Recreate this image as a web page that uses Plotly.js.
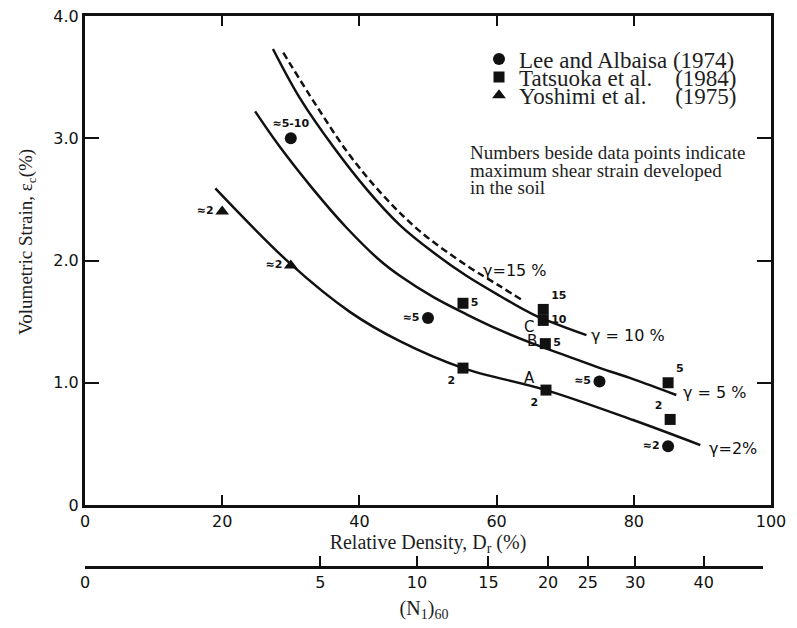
<!DOCTYPE html>
<html>
<head>
<meta charset="utf-8">
<script src="https://cdn.plot.ly/plotly-3.0.1.min.js"></script>
<style>
  html, body { margin: 0; padding: 0; background: #ffffff; }
  #chart { width: 797px; height: 628px; }
</style>
</head>
<body>
<div id="chart"></div>
<script>
// Volumetric strain of sands after cyclic loading, plotted against relative density.

// Lee and Albaisa (1974)
const leeDr = [30, 50, 75, 85];
const leeStrain = [3.0, 1.53, 1.01, 0.48];
const leeLabels = ['\u22485-10', '\u22485', '\u22485', '\u22482'];

// Tatsuoka et al. (1984)
const tatDr = [55.1, 66.8, 66.8, 67.1, 55.1, 67.2, 85.0, 85.3];
const tatStrain = [1.65, 1.60, 1.51, 1.32, 1.12, 0.94, 1.00, 0.70];
const tatLabels = ['5', '15', '10', '5', '2', '2', '5', '2'];
const tatLetters = ['', '', 'C', 'B', '', 'A', '', ''];

// Yoshimi et al. (1975)
const yosDr = [20, 30];
const yosStrain = [2.40, 1.96];
const yosLabels = ['\u22482', '\u22482'];

// Curves of constant maximum shear strain
const g2Dr = [19.0, 30, 38.6, 45.9, 55.1, 67.2, 79.9, 89.7];
const g2Strain = [2.59, 1.97, 1.58, 1.34, 1.12, 0.94, 0.695, 0.49];
const g5Dr = [24.8, 28.4, 33.3, 38.1, 43, 45.9, 50.8, 55.6, 60.5, 65.3, 70.2, 75.1, 79.9, 86.2];
const g5Strain = [3.22, 2.93, 2.58, 2.27, 2.0, 1.875, 1.70, 1.56, 1.43, 1.32, 1.22, 1.12, 1.03, 0.90];
const g10Dr = [27.4, 31.3, 36.2, 41.1, 45.9, 50.8, 55.6, 60.5, 65.3, 73.1];
const g10Strain = [3.73, 3.33, 2.93, 2.58, 2.29, 2.065, 1.875, 1.71, 1.56, 1.39];
const g15Dr = [28.9, 33.8, 38.6, 43.5, 48.8, 55.6, 60.5, 63.9];
const g15Strain = [3.70, 3.26, 2.86, 2.53, 2.24, 1.96, 1.79, 1.67];

// Axis ticks
const drTicks = [0, 20, 40, 60, 80, 100];
const strainTicks = [0, 1, 2, 3, 4];
const strainTickText = ['0', '1.0', '2.0', '3.0', '4.0'];
const n160Ticks = ['0', '5', '10', '15', '20', '25', '30', '40'];
const n160AsDr = [0, 34.3, 48.4, 58.8, 67.5, 73.3, 80.2, 90.2];

const INK = '#111111';
const TEXT = '#1e1e1e';
const sans = 'DejaVu Sans, sans-serif';
const serif = 'Liberation Serif, Times New Roman, serif';
const NB = '\u00a0';

function curve(x, y, dash) {
  return {
    x: x, y: y, type: 'scatter', mode: 'lines',
    line: { color: INK, width: 2.5, shape: 'spline', smoothing: 1, dash: dash || 'solid' },
    showlegend: false, hoverinfo: 'skip'
  };
}

const labelFont = { family: sans, size: 11, color: INK, weight: 'bold' };

const traces = [
  curve(g2Dr, g2Strain),
  curve(g5Dr, g5Strain),
  curve(g10Dr, g10Strain),
  curve(g15Dr, g15Strain, '7px,4px'),
  {
    x: leeDr, y: leeStrain, text: leeLabels, type: 'scatter', mode: 'markers+text',
    name: 'Lee and Albaisa (1974)', legend: 'legend',
    marker: { symbol: 'circle', size: 12, color: INK },
    textposition: ['top center', 'middle left', 'middle left', 'middle left'],
    textfont: labelFont
  },
  {
    x: tatDr, y: tatStrain, text: tatLabels, type: 'scatter', mode: 'markers+text',
    name: 'Tatsuoka et al.' + NB.repeat(4) + '(1984)', legend: 'legend2',
    marker: { symbol: 'square', size: 11, color: INK },
    textposition: ['middle right', 'top right', 'middle right', 'middle right',
                   'bottom left', 'bottom left', 'top right', 'top left'],
    textfont: labelFont
  },
  {
    x: yosDr, y: yosStrain, text: yosLabels, type: 'scatter', mode: 'markers+text',
    name: 'Yoshimi et al.' + NB.repeat(5) + '(1975)', legend: 'legend3',
    marker: { symbol: 'triangle-up', size: 12, color: INK },
    textposition: ['middle left', 'middle left'],
    textfont: labelFont
  },
  // carries the (N1)60 scale under the relative density axis
  { x: [], y: [], xaxis: 'x2', yaxis: 'y', type: 'scatter', showlegend: false, hoverinfo: 'skip' }
];

const annotations = [];

// Letters marking particular test results
const letterShift = { A: [-16, 12], B: [-13, 3], C: [-14, -7] };
tatLetters.forEach(function (letter, i) {
  if (!letter) return;
  annotations.push({
    x: tatDr[i], y: tatStrain[i], xref: 'x', yref: 'y', text: letter, showarrow: false,
    xshift: letterShift[letter][0], yshift: letterShift[letter][1],
    font: { family: sans, size: 15, color: INK }
  });
});

// Curve labels next to the end of each curve
function curveLabel(x, y, text, xs, ys, anchor) {
  annotations.push({
    x: x[x.length - 1], y: y[y.length - 1], xref: 'x', yref: 'y', text: text,
    showarrow: false, xanchor: anchor, xshift: xs, yshift: ys,
    font: { family: sans, size: 16, color: INK }
  });
}
curveLabel(g15Dr, g15Strain, '\u03b3=15 %', -8, 30, 'center');
curveLabel(g10Dr, g10Strain, '\u03b3 = 10 %', 3, 0, 'left');
curveLabel(g5Dr, g5Strain, '\u03b3 = 5 %', 5, 2, 'left');
curveLabel(g2Dr, g2Strain, '\u03b3=2%', 7, -3, 'left');

// Explanatory note
['Numbers beside data points indicate', 'maximum shear strain developed', 'in the soil']
  .forEach(function (line, i) {
    annotations.push({
      x: 0.558, y: 0.7514 - i * 0.0315, xref: 'paper', yref: 'paper',
      xanchor: 'left', yanchor: 'middle', text: line, showarrow: false,
      font: { family: serif, size: 19, color: TEXT }
    });
  });

// Vertical axis title
annotations.push({
  x: -0.0845, y: 0.59, xref: 'paper', yref: 'paper', textangle: -90,
  text: 'Volumetric Strain, \u03b5<sub>c</sub>(%)', showarrow: false,
  xanchor: 'center', yanchor: 'middle',
  font: { family: serif, size: 19, color: TEXT }
});

const legendX = (479 - 85) / 686;
function legendBox(y) {
  return {
    x: legendX, y: y, xref: 'paper', yref: 'paper', xanchor: 'left', yanchor: 'middle',
    bgcolor: 'rgba(0,0,0,0)', borderwidth: 0,
    font: { family: serif, size: 23, color: TEXT }
  };
}

const layout = {
  width: 797, height: 628,
  margin: { l: 85, r: 26, t: 16, b: 61 },
  paper_bgcolor: '#ffffff', plot_bgcolor: 'rgba(0,0,0,0)',
  showlegend: true,
  legend: legendBox(0.922), legend2: legendBox(0.889), legend3: legendBox(0.856),
  xaxis: {
    range: [0, 100], tickvals: drTicks, ticks: 'inside', ticklen: 10, tickwidth: 2,
    tickcolor: INK, showline: true, linewidth: 3, linecolor: INK, mirror: 'ticks',
    showgrid: false, zeroline: false, fixedrange: true,
    tickfont: { family: sans, size: 16, color: INK },
    title: { text: 'Relative Density, D<sub>r</sub> (%)', standoff: 3,
             font: { family: serif, size: 20, color: TEXT } }
  },
  yaxis: {
    domain: [0.1125, 1], range: [0, 4], tickvals: strainTicks, ticktext: strainTickText,
    ticks: 'inside', ticklen: 14, tickwidth: 2, tickcolor: INK,
    showline: true, linewidth: 3, linecolor: INK, mirror: 'ticks',
    showgrid: false, zeroline: false, fixedrange: true,
    tickfont: { family: sans, size: 16, color: INK }
  },
  xaxis2: {
    domain: [0, 0.9883], range: [0, 98.83], anchor: 'free', position: 0,
    tickvals: n160AsDr, ticktext: n160Ticks, ticks: 'inside', ticklen: 10, tickwidth: 2,
    tickcolor: INK, showline: true, linewidth: 3, linecolor: INK,
    showgrid: false, zeroline: false, fixedrange: true,
    tickfont: { family: sans, size: 16, color: INK },
    title: { text: '(N<sub>1</sub>)<sub>60</sub>', standoff: 9,
             font: { family: serif, size: 20, color: TEXT } }
  },
  annotations: annotations
};

Plotly.newPlot('chart', traces, layout, { staticPlot: true, displayModeBar: false });
</script>
</body>
</html>
